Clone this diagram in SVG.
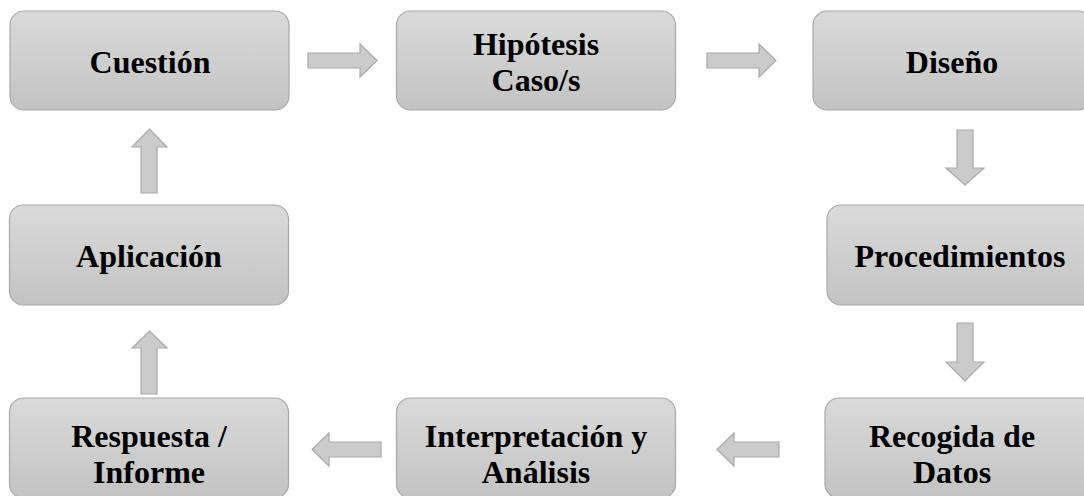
<svg xmlns="http://www.w3.org/2000/svg" width="1084" height="496" viewBox="0 0 1084 496">
<defs>
<linearGradient id="g" x1="0" y1="0" x2="0" y2="1">
<stop offset="0" stop-color="#dadada"/>
<stop offset="1" stop-color="#c3c3c3"/>
</linearGradient>
<style>
.box{fill:url(#g);stroke:#a8a8a8;stroke-width:1.2}
.t{font-family:"Liberation Serif","Times New Roman",serif;font-weight:bold;font-size:32px;fill:#000;text-anchor:middle}
.arr{fill:#cbcbcb;stroke:#a9a9a9;stroke-width:1.2;stroke-linejoin:miter}
</style>
</defs>
<rect width="1084" height="496" fill="#fff"/>
<g id="connectors">
<polygon class="arr" points="308,53 360,53 360,44 377,60.5 360,77 360,68 308,68"/>
<polygon class="arr" points="707,53 759,53 759,44 776,60.5 759,77 759,68 707,68"/>
<polygon class="arr" points="957,130 973,130 973,168 984,168 965,185 946,168 957,168"/>
<polygon class="arr" points="957,323 973,323 973,362 984,362 965,381 946,362 957,362"/>
<polygon class="arr" points="779,442 779,457 734,457 734,466 717,449.5 734,433 734,442"/>
<polygon class="arr" points="381,442 381,457 329,457 329,466 312,449.5 329,433 329,442"/>
<polygon class="arr" points="141,394 157,394 157,348 167,348 149.5,331 132,348 141,348"/>
<polygon class="arr" points="141,193 157,193 157,147 167,147 149.5,129 132,147 141,147"/>
</g>
<g id="n1"><rect class="box" x="10" y="11" width="279" height="99" rx="14"/><text class="t" x="150" y="73">Cuestión</text></g>
<g id="n2"><rect class="box" x="396.5" y="11" width="279" height="99" rx="14"/><text class="t" x="536" y="55">Hipótesis</text><text class="t" x="536" y="91">Caso/s</text></g>
<g id="n3"><rect class="box" x="813" y="11" width="279" height="99" rx="14"/><text class="t" x="952" y="73">Diseño</text></g>
<g id="n4"><rect class="box" x="827" y="205" width="279" height="100" rx="14"/><text class="t" x="960" y="267">Procedimientos</text></g>
<g id="n5"><rect class="box" x="825" y="398" width="279" height="100" rx="14"/><text class="t" x="952" y="447">Recogida de</text><text class="t" x="952" y="483">Datos</text></g>
<g id="n6"><rect class="box" x="396.5" y="398" width="279" height="100" rx="14"/><text class="t" x="536" y="447">Interpretación y</text><text class="t" x="536" y="483">Análisis</text></g>
<g id="n7"><rect class="box" x="9.5" y="398" width="279" height="100" rx="14"/><text class="t" x="149" y="447">Respuesta /</text><text class="t" x="149" y="483">Informe</text></g>
<g id="n8"><rect class="box" x="9.5" y="205" width="279" height="100" rx="14"/><text class="t" x="149" y="267">Aplicación</text></g>
</svg>
